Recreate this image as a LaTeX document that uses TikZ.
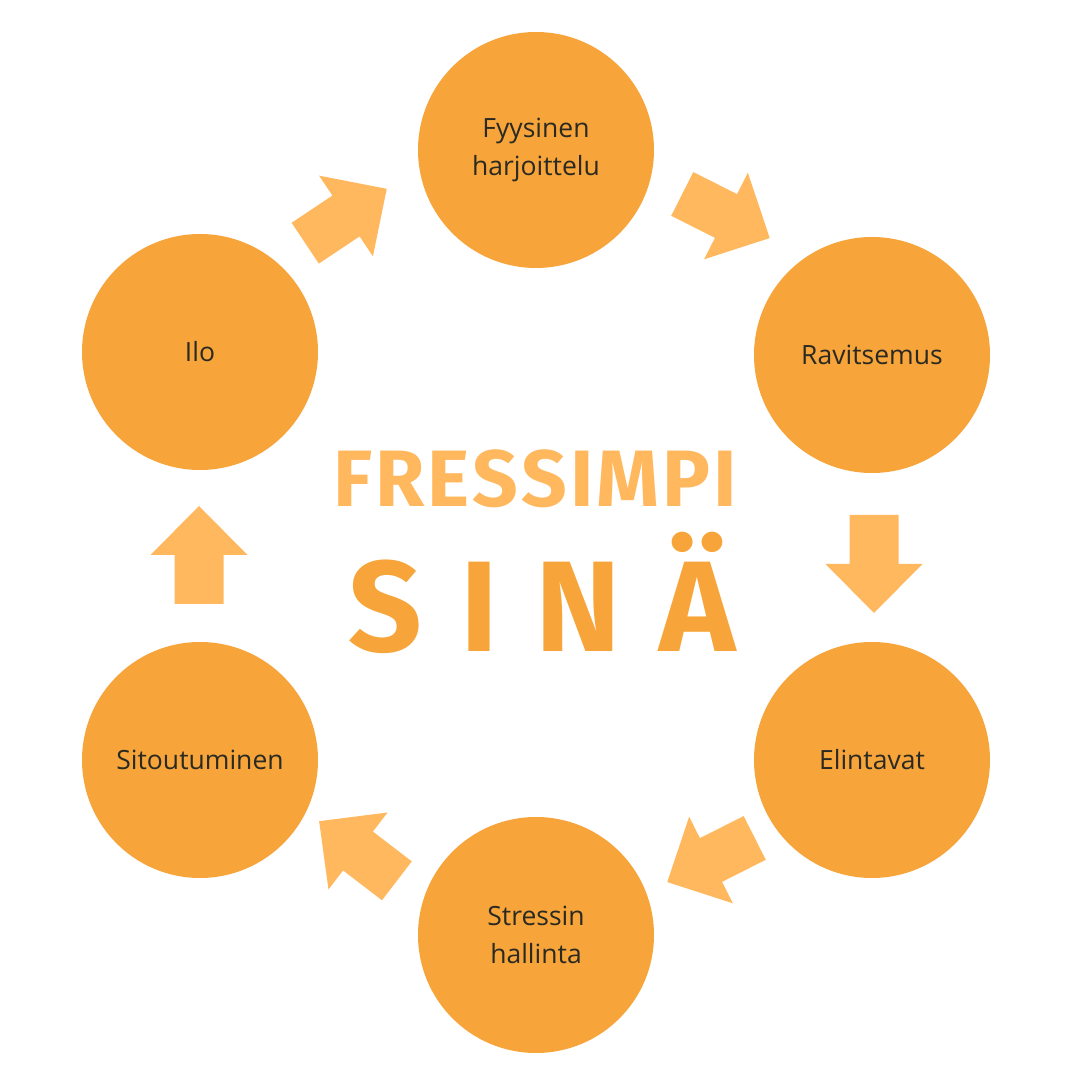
\documentclass[tikz,border=0pt]{standalone}
\usepackage{fontspec}
\setmainfont{Open Sans}
\newfontfamily\titlefont{Fira Sans}
\usetikzlibrary{positioning}
\definecolor{circleorange}{HTML}{F7A53A}
\definecolor{arroworange}{HTML}{FFB85E}
\definecolor{labeltext}{HTML}{2A2A22}
\tikzset{pics/blockarrow/.style={code={
  \fill[arroworange] (-49,-24.5) -- (0,-24.5) -- (0,-48.5) -- (49,0) -- (0,48.5) -- (0,24.5) -- (-49,24.5) -- cycle;}}}

\begin{document}
\begin{tikzpicture}[x=1pt,y=1pt,topic/.style={circle,fill=circleorange,minimum size=236pt,inner sep=0pt,text=labeltext,align=center,font=\fontsize{26.5}{38}\selectfont}]
\useasboundingbox (0,0) rectangle (1080,1080);
            \begin{scope}[every node/.style={topic}]
              \node (fyys) at (536,930) {Fyysinen\\harjoittelu};
              \node (ravit) at (872,725) {Ravitsemus};
              \node (elin) at (872,320) {Elintavat};
              \node (stress) at (536,145) {Stressin\\hallinta};
              \node (sitou) at (200,320) {Sitoutuminen};
              \node (ilo) at (200,728) {Ilo};
            \end{scope}
            \pic[rotate=33.7] at (346,864) {blockarrow};
            \pic[rotate=-26.8] at (726,864) {blockarrow};
            \pic[rotate=-90] at (874,516) {blockarrow};
            \pic[rotate=206.8] at (711,220) {blockarrow};
            \pic[rotate=142.5] at (358,229) {blockarrow};
            \pic[rotate=90] at (199,525) {blockarrow};
            \node[anchor=base,text=arroworange,font=\titlefont\bfseries\fontsize{80}{84}\selectfont] (fressimpi) at (535,573) {F\kern3ptR\kern3ptE\kern3ptS\kern3ptS\kern3ptI\kern3ptM\kern3ptP\kern3ptI};
            \node[anchor=base,text=circleorange,font=\titlefont\bfseries\fontsize{129}{134}\selectfont] (sina) at (542,428) {S\hspace{38pt}I\hspace{38pt}N\hspace{38pt}Ä};
          \end{tikzpicture}
\end{document}
